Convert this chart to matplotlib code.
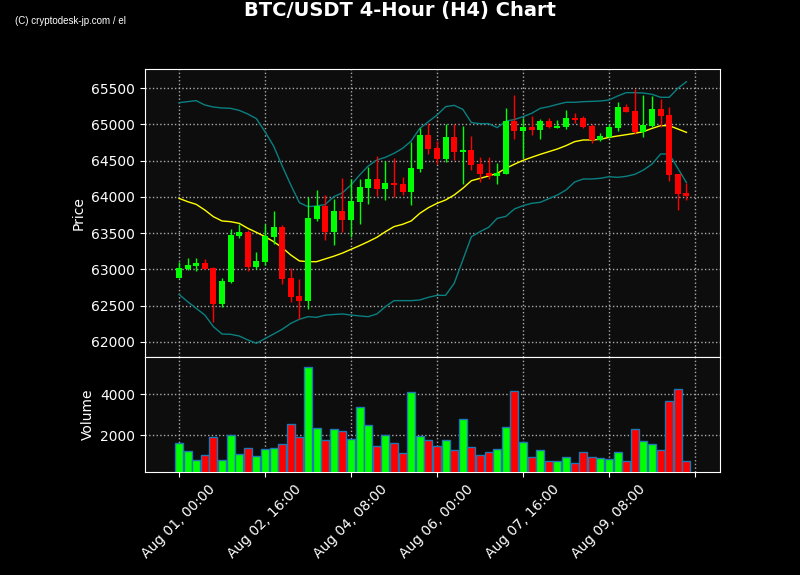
import matplotlib
matplotlib.use('Agg')
from matplotlib import pyplot as plt
import matplotlib.dates as mdates
import numpy as np
from datetime import datetime, timedelta

# 4時間足データ
start = datetime(2024, 8, 1)
opens = [62886, 63006, 63047, 63088, 63019, 62528, 62831, 63465, 63520, 63029,
         63107, 63451, 63584, 62882, 62634, 62570, 63700, 63874, 63521, 63805,
         63686, 63934, 64127, 64246, 64109, 64191, 64177, 64067, 64384, 64857,
         64673, 64521, 64820, 64622, 64645, 64453, 64329, 64292, 64319, 65045,
         64912, 64962, 64926, 65045, 64953, 64967, 65082, 65082, 64976, 64783,
         64820, 64944, 65233, 65183, 64889, 64981, 65206, 65128, 64310, 64048]
highs = [63107, 63153, 63153, 63139, 63029, 62877, 63552, 63621, 63543, 63235,
         63626, 63800, 63612, 63015, 62868, 64002, 64090, 64030, 63975, 64255,
         64246, 64246, 64416, 64563, 64499, 64531, 64279, 64756, 64944, 65022,
         64774, 65004, 65000, 64981, 64838, 64544, 64544, 64462, 65220, 65399,
         65082, 65114, 65077, 65082, 65054, 65197, 65151, 65114, 65000, 64875,
         65004, 65302, 65279, 65481, 65408, 65390, 65344, 65243, 64310, 64195]
lows = [62877, 62992, 62983, 63001, 62280, 62487, 62808, 63428, 62983, 63001,
        63061, 63346, 62794, 62556, 62312, 62450, 63672, 63406, 63332, 63511,
        63452, 63622, 63897, 64012, 63957, 64003, 64026, 63883, 64347, 64586,
        64448, 64485, 64503, 64177, 64370, 64200, 64241, 64177, 64310, 64797,
        64531, 64852, 64792, 64949, 64953, 64930, 65022, 64944, 64737, 64774,
        64806, 64912, 65174, 64861, 64829, 64967, 64967, 64223, 63819, 63957]
closes = [63015, 63061, 63093, 63006, 62528, 62840, 63474, 63511, 63029, 63116,
          63465, 63584, 62868, 62624, 62569, 63704, 63874, 63521, 63805, 63686,
          63948, 64136, 64246, 64109, 64191, 64168, 64067, 64398, 64857, 64660,
          64521, 64820, 64622, 64645, 64443, 64319, 64292, 64329, 65045, 64912,
          64958, 64926, 65045, 64958, 64976, 65082, 65063, 64967, 64783, 64838,
          64958, 65233, 65174, 64889, 64990, 65206, 65119, 64301, 64044, 64016]
volumes = [1657, 1267, 811, 1072, 1950, 811, 2047, 1120, 1413, 1023,
           1364, 1413, 1608, 2535, 1950, 5315, 2340, 1803, 2291, 2193,
           1852, 3364, 2486, 1511, 2047, 1657, 1169, 4096, 1998, 1803,
           1511, 1803, 1315, 2779, 1462, 1072, 1202, 1364, 2389, 4145,
           1706, 974, 1315, 779, 779, 974, 681, 1218, 974, 925,
           877, 1218, 779, 2291, 1754, 1608, 1315, 3657, 4242, 779]
sma = [63980, 63934, 63897, 63819, 63727, 63668, 63658, 63635, 63567, 63511,
       63452, 63383, 63300, 63199, 63117, 63107, 63107, 63145, 63182, 63225,
       63277, 63328, 63383, 63442, 63520, 63590, 63622, 63668, 63773, 63851,
       63911, 63957, 64026, 64118, 64223, 64255, 64288, 64324, 64393, 64450,
       64503, 64545, 64586, 64623, 64660, 64706, 64761, 64784, 64784, 64793,
       64820, 64839, 64857, 64876, 64899, 64944, 64981, 64981, 64935, 64889]
upper = [65298, 65312, 65326, 65266, 65238, 65225, 65220, 65192, 65142, 65078,
         64898, 64701, 64425, 64164, 63920, 63865, 63874, 63895, 64003, 64055,
         64164, 64301, 64425, 64508, 64545, 64600, 64669, 64770, 64944, 65036,
         65128, 65243, 65261, 65206, 65023, 65009, 65009, 64954, 65043, 65066,
         65105, 65151, 65220, 65243, 65275, 65303, 65303, 65312, 65316, 65321,
         65335, 65390, 65436, 65436, 65431, 65413, 65372, 65372, 65496, 65587]
lower = [62657, 62556, 62464, 62372, 62212, 62110, 62106, 62083, 62028, 61982,
         62046, 62110, 62175, 62257, 62313, 62349, 62340, 62370, 62379, 62386,
         62372, 62359, 62349, 62386, 62487, 62570, 62570, 62570, 62579, 62616,
         62643, 62643, 62809, 63130, 63452, 63521, 63580, 63704, 63731, 63833,
         63879, 63911, 63925, 63975, 64026, 64095, 64205, 64246, 64246, 64256,
         64278, 64269, 64283, 64311, 64370, 64453, 64591, 64591, 64393, 64196]

times = [start + timedelta(hours=4 * i) for i in range(len(opens))]
x = mdates.date2num(times)
o = np.array(opens)
c = np.array(closes)
step = 4 / 24
cols = np.where(c >= o, '#00ff00', '#ff0000')

fig = plt.figure(figsize=(8, 5.75), dpi=100, facecolor='black')
ax1 = fig.add_axes([0.18125, 0.3791, 0.71875, 0.5009])
ax2 = fig.add_axes([0.18125, 0.1791, 0.71875, 0.2], sharex=ax1)

# ローソク足
ax1.vlines(x, lows, highs, colors=cols, linewidth=1, zorder=3)
ax1.bar(x, np.maximum(np.abs(c - o), 8), bottom=np.minimum(o, c), width=step * 0.7,
        color=cols, zorder=4)
ax1.plot(x, upper, color='#0a7f80', linewidth=1, zorder=2)
ax1.plot(x, lower, color='#0a7f80', linewidth=1, zorder=2)
ax1.plot(x, sma, color='#ffff00', linewidth=1, zorder=2)

# 出来高
ax2.bar(x, volumes, width=step * 0.92, color=cols, edgecolor='#1f77b4', linewidth=1, zorder=3)

ticks = [mdates.date2num(start + timedelta(hours=40 * k)) for k in range(7)]
labels = [(start + timedelta(hours=40 * k)).strftime('%b %d, %H:%M') for k in range(6)] + ['']
ax2.set_xticks(ticks)
ax2.set_xticklabels(labels, rotation=45)
ax1.set_xlim(x[0] - 15.8 / 24, x[0] + 251.6 / 24)
plt.setp(ax1.get_xticklabels(), visible=False)

ax1.set_ylim(61793, 65762)
ax1.set_yticks(range(62000, 65501, 500))
ax2.set_ylim(230, 5800)
ax2.set_yticks([2000, 4000])

ax1.set_ylabel('Price', color='white')
ax2.set_ylabel('Volume', color='white')

for ax in (ax1, ax2):
    ax.set_facecolor('#0d0d0d')
    ax.grid(True, linestyle=':', color='#aaaaaa', linewidth=1)
    ax.set_axisbelow(True)
    ax.tick_params(colors='white', labelsize=10)
    for s in ax.spines.values():
        s.set_color('white')

fig.text(0.5, 0.981, 'BTC/USDT 4-Hour (H4) Chart', ha='center', va='center',
         fontsize=14, fontweight='bold', color='white')
fig.text(0.019, 0.963, '(C) cryptodesk-jp.com / el', ha='left', va='center', fontsize=7,
         color='white', family=['Liberation Sans', 'DejaVu Sans'])

plt.savefig('out.png', dpi=100, facecolor='black')
